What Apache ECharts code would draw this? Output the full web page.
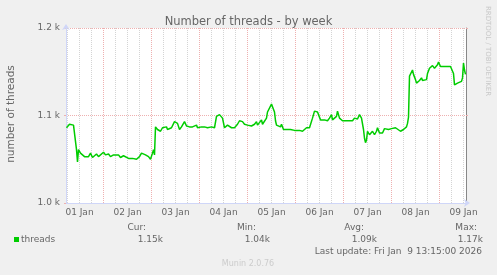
<!DOCTYPE html>
<html><head><meta charset="utf-8">
<script src="https://cdn.jsdelivr.net/npm/echarts@6/dist/echarts.min.js"></script>
<style>html,body{margin:0;padding:0;background:#f0f0f0}#c{width:497px;height:275px}</style>
</head><body><div id="c"></div>
<script>
// ---- data (hours counted from 2026-01-01 00:00) ----
const dayLabels = ['01 Jan','02 Jan','03 Jan','04 Jan','05 Jan','06 Jan','07 Jan','08 Jan','09 Jan'];
const dayLabelHours = [12,36,60,84,108,132,156,180,204];
const midnightHours = [24,48,72,96,120,144,168,192];
const sixHourHours = [6,12,18,30,36,42,54,60,66,78,84,90,102,108,114,126,132,138,150,156,162,174,180,186,198,204];
const yTickValues = [1000,1100,1200];
const sampleHours = [5.5,6,7,8,9,10,10.5,11,11.5,12.5,13.5,14.5,15,16.5,17.5,18.5,19.5,20.5,21.5,22.5,24,25,26.5,27.5,29,30,31.5,32.5,34,35,36.5,38.5,39.5,40.5,42,43,44,45,46.5,47.5,48.5,49,49.5,50,
  51,52,52.5,53.5,54.5,55.5,56,57,58,58.5,59.5,60.5,61,62,63,63.5,64.5,65.5,66,67,68,68.5,69.5,70.5,71,72,73,73.5,74.5,75.5,76,77,78,78.5,79.5,80.5,81,82,83,83.5,84.5,85.5,86,87,88,88.5,89.5,90.5,91,92,93,93.5,94.5,95.5,96,97,98,98.5,99.5,100.5,101,102,103,103.5,104.5,105.5,106,107,108,108.5,109.5,110,110.5,111.5,112.5,113,114,115,115.5,116.5,117.5,118,119.5,120.5,122,123.5,124.5,125.5,126,127,128,128.5,129.5,130.5,131,132,132.5,133.5,134.5,135.5,136,137,138,138.5,139.5,140.5,141,142,143,143.5,144.5,145.5,146,147,148,148.5,149.5,150.5,151,152,153,153.5,154,154.5,155,155.5,156,157,158,158.5,159.5,160.5,161,162,163,163.5,164.5,165.5,166.5,168,169,170,171,172.5,173.5,174,174.5,175.5,176,176.5,177,178,178.5,179,180,180.5,181.5,182,183,183.5,184.5,185.5,186,187,188,188.5,189.5,190.5,191,191.5,192.5,193,194,195,195.5,196.5,197.5,198.5,199,199.5,200.5,201,202,203,203.5,204,204.5,205];
const threads = [1086,1087,1090,1090,1089,1087,1061,1047,1061,1057,1059,1053,1055,1053,1057,1052,1054,1056,1053,1053,1058,1055,1056,1053,1055,1053,1055,1052,1054,1052,1051,1051,1049,1050,1053,1057,1058,1055,1053,1050,1057,1061,1055,1087,
  1084,1086,1082,1086,1084,1087,1084,1086,1086,1088,1093,1095,1091,1084,1087,1089,1093,1088,1086,1087,1086,1087,1086,1089,1086,1087,1087,1086,1087,1087,1086,1086,1087,1087,1086,1099,1101,1101,1100,1097,1086,1087,1089,1088,1086,1087,1086,1087,1090,1094,1096,1093,1090,1088,1089,1088,1088,1089,1090,1093,1089,1091,1095,1090,1091,1097,1104,1106,1113,1110,1104,1094,1089,1091,1087,1090,1084,1082,1084,1082,1084,1082,1083,1082,1083,1082,1084,1086,1084,1086,1085,1097,1105,1106,1104,1105,1095,1097,1095,1096,1094,1097,1101,1095,1096,1099,1105,1097,1095,1094,1092,1094,1093,1094,1095,1094,1097,1099,1096,1101,1097,1095,1084,1074,1069,1072,1082,1078,1076,1082,1078,1082,1086,1080,1082,1080,1085,1084,1084,1085,1084,1086,1085,1082,1082,1084,1082,1087,1091,1098,1145,1147,1152,1147,1141,1137,1139,1140,1143,1140,1141,1141,1148,1154,1156,1157,1154,1156,1158,1161,1156,1158,1156,1158,1156,1157,1156,1157,1148,1135,1136,1137,1138,1139,1143,1160,1152,1147];
const seriesName = 'threads';
const statNames = ['Cur:','Min:','Avg:','Max:'];
const statValues = ['1.15k','1.04k','1.09k','1.17k'];
const lastUpdate = 'Last update: Fri Jan  9 13:15:00 2026';
const startHour = 5.25, endHour = 205.25;

// ---- layout / style ----
const FONT = 'DejaVu Sans';
const TXT = '#666666';
const GRIDGRAY = '#d4d4d4';
const GRIDRED = '#eeb0b0';
const AXISC = '#cfd6f8';
const pairs = sampleHours.map((h, i) => [h, threads[i]]);
const statNameRight = [146, 256, 364, 477];
const statValueRight = [163, 270, 377, 483];

const gridLines = sixHourHours.filter(h => midnightHours.indexOf(h) < 0)
  .map(h => ({xAxis: h, lineStyle: {color: GRIDGRAY, type: [1, 1], width: 1}}))
  .concat(midnightHours.map(h => ({xAxis: h, lineStyle: {color: GRIDRED, type: [1, 1], width: 1}})));

const graphics = [
  {type:'text', x:11, y:114, rotation:Math.PI/2, style:{text:'number of threads', fill:TXT, font:'10.5px ' + FONT, align:'center', verticalAlign:'middle'}},
  {type:'text', x:488, y:51, rotation:-Math.PI/2, style:{text:'RRDTOOL / TOBI OETIKER', fill:'#c8c8c8', font:'7px ' + FONT, align:'center', verticalAlign:'middle'}},
  {type:'rect', shape:{x:14, y:237, width:5, height:5}, style:{fill:'#00cc00'}},
  {type:'text', x:21, y:239.5, style:{text:seriesName, fill:TXT, font:'9px ' + FONT, align:'left', verticalAlign:'middle'}},
  {type:'text', x:482, y:251.5, style:{text:lastUpdate, fill:TXT, font:'9px ' + FONT, align:'right', verticalAlign:'middle'}},
  {type:'text', x:248, y:263.5, style:{text:'Munin 2.0.76', fill:'#cccccc', font:'8px ' + FONT, align:'center', verticalAlign:'middle'}}
];
statNames.forEach((s, i) => {
  graphics.push({type:'text', x:statNameRight[i], y:227.5, style:{text:s, fill:TXT, font:'9px ' + FONT, align:'right', verticalAlign:'middle'}});
  graphics.push({type:'text', x:statValueRight[i], y:239.5, style:{text:statValues[i], fill:TXT, font:'9px ' + FONT, align:'right', verticalAlign:'middle'}});
});

const chart = echarts.init(document.getElementById('c'), null, {renderer:'canvas'});
chart.setOption({
  animation: false,
  backgroundColor: '#f0f0f0',
  textStyle: {fontFamily: FONT},
  title: {text:'Number of threads - by week', left:'center', top:16.5, padding:0,
    textStyle:{fontFamily:FONT, fontSize:11.5, fontWeight:'normal', color:TXT}},
  grid: {left:66, right:31, top:28, bottom:72, show:true, backgroundColor:'#ffffff', borderWidth:0},
  xAxis: {type:'value', min:startHour, max:endHour,
    axisLine:{show:true, lineStyle:{color:AXISC, width:1}, symbol:['none','arrow'], symbolSize:[6,6], symbolOffset:[0,4]},
    axisTick:{show:false},
    splitLine:{show:false},
    axisLabel:{customValues:dayLabelHours, formatter:v => dayLabels[dayLabelHours.indexOf(v)] || '',
      color:TXT, fontFamily:FONT, fontSize:9, margin:5, showMinLabel:true, showMaxLabel:true}
  },
  yAxis: [
    {type:'value', min:1000, max:1200, interval:100, position:'left',
      axisLine:{show:true, lineStyle:{color:AXISC, width:1}, symbol:['none','arrow'], symbolSize:[6,6], symbolOffset:[0,4]},
      axisTick:{show:true, length:2, lineStyle:{color:GRIDRED}},
      splitLine:{show:true, lineStyle:{color:GRIDRED, type:[1,1], width:1}},
      axisLabel:{formatter:v => yTickValues.indexOf(v) >= 0 ? (v/1000).toFixed(1) + ' k' : '', color:TXT, fontFamily:FONT, fontSize:9, margin:6}
    },
    {type:'value', min:1000, max:1200, interval:100, position:'right',
      axisLine:{show:true, lineStyle:{color:'#888888', width:1}},
      axisTick:{show:true, length:2, lineStyle:{color:GRIDRED}},
      splitLine:{show:false}, axisLabel:{show:false}
    }
  ],
  graphic: graphics,
  series: [
    {type:'line', name:'gridlines', data:pairs, silent:true, z:1, showSymbol:false,
      lineStyle:{opacity:0, width:0},
      markLine:{silent:true, symbol:['none','none'], label:{show:false}, z:1, animation:false, data:gridLines}},
    {type:'line', name:seriesName, data:pairs, z:3, showSymbol:false, smooth:false,
      lineStyle:{color:'#00cc00', width:1.5}}
  ]
});
</script></body></html>
